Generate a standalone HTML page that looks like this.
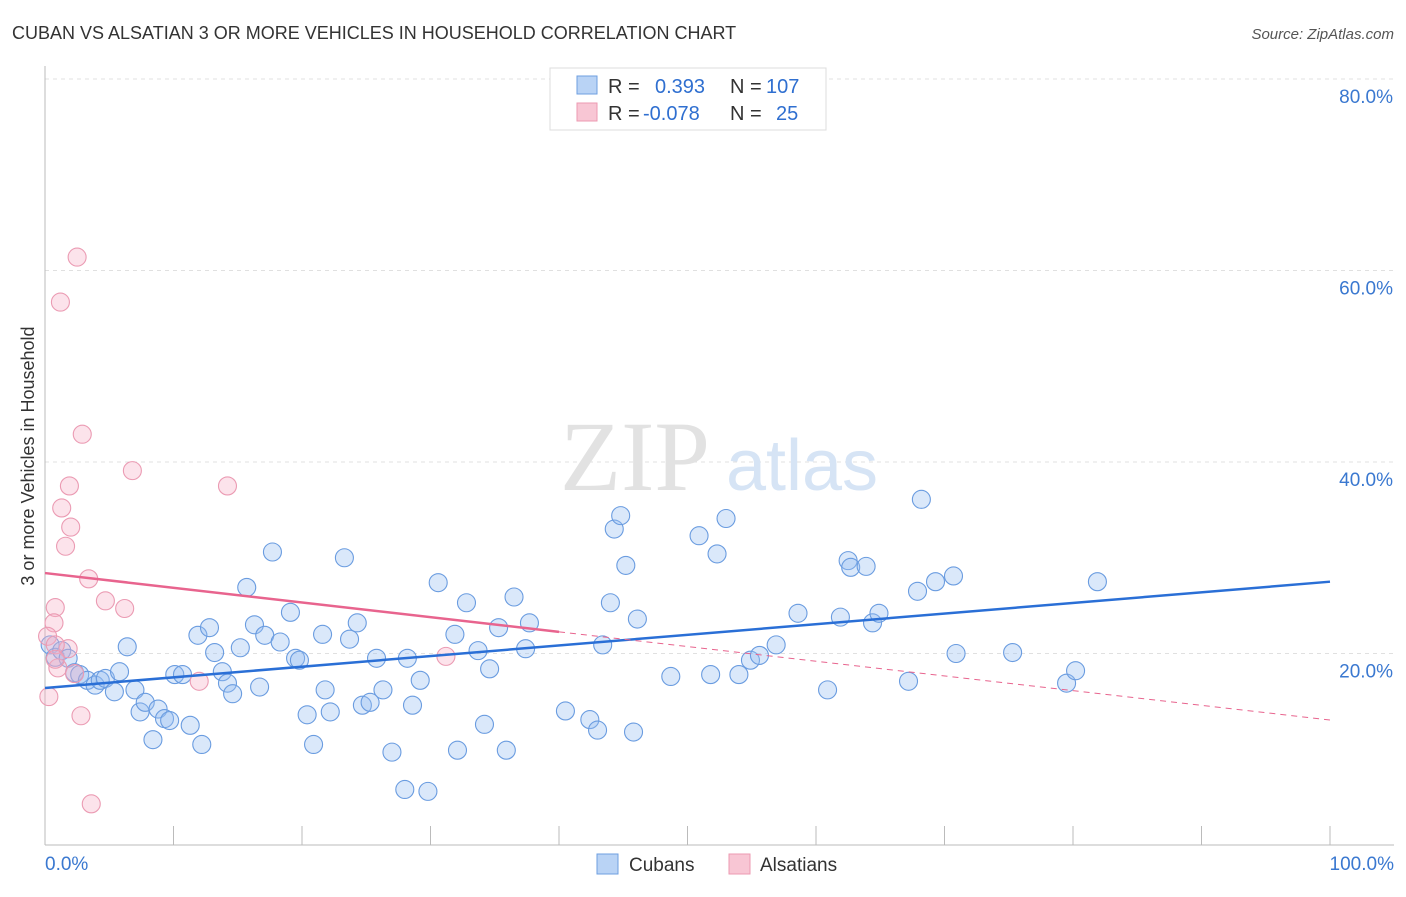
<!DOCTYPE html>
<html><head><meta charset="utf-8"><style>
body{margin:0;background:#fff;font-family:"Liberation Sans",sans-serif;}
svg text{font-family:"Liberation Sans",sans-serif;}
</style></head><body>
<svg id="chart" width="1406" height="892">
<text x="12" y="39" font-size="18" fill="#333">CUBAN VS ALSATIAN 3 OR MORE VEHICLES IN HOUSEHOLD CORRELATION CHART</text>
<text x="1394" y="39" font-size="15" fill="#555" font-style="italic" text-anchor="end">Source: ZipAtlas.com</text>
<text transform="translate(34,456) rotate(-90)" font-size="18" fill="#333" text-anchor="middle">3 or more Vehicles in Household</text>
<g id="grid"></g>
<text x="635" y="490" font-size="100" fill="#e2e2e2" style="font-family:'Liberation Serif',serif" text-anchor="middle">ZIP</text>
<text x="802" y="490" font-size="72" fill="#d6e4f5" text-anchor="middle">atlas</text>
<g id="marks"></g>
<g id="lines"></g>
<g>
<rect x="550" y="68" width="276" height="62" fill="#fff" stroke="#ddd"/>
<rect x="577" y="76" width="20" height="18" fill="#b9d3f5" stroke="#6e9fe0"/>
<rect x="577" y="103" width="20" height="18" fill="#f8c6d4" stroke="#ec9ab2"/>
<text x="608" y="93" font-size="20" fill="#333">R =</text>
<text x="655" y="93" font-size="20" fill="#2f6fd0">0.393</text>
<text x="730" y="93" font-size="20" fill="#333">N =</text>
<text x="766" y="93" font-size="20" fill="#2f6fd0">107</text>
<text x="608" y="120" font-size="20" fill="#333">R =</text>
<text x="643" y="120" font-size="20" fill="#2f6fd0">-0.078</text>
<text x="730" y="120" font-size="20" fill="#333">N =</text>
<text x="776" y="120" font-size="20" fill="#2f6fd0">25</text>
</g>
<g>
<rect x="597" y="854" width="21" height="20" fill="#b9d3f5" stroke="#6e9fe0"/>
<text x="629" y="871" font-size="19" fill="#333">Cubans</text>
<rect x="729" y="854" width="21" height="20" fill="#f8c6d4" stroke="#ec9ab2"/>
<text x="760" y="871" font-size="19" fill="#333">Alsatians</text>
</g>
</svg>
<script>
const xTicks=[0,10,20,30,40,50,60,70,80,90,100];
const yTicks=[20,40,60,80];
const yTickLabels=["20.0%","40.0%","60.0%","80.0%"];
const cubansX=[0.4,0.8,1.3,1.8,2.3,2.7,3.3,3.9,4.3,4.7,5.4,5.8,6.4,7,7.4,7.8,8.4,8.8,9.3,9.7,10.1,10.7,11.3,11.9,12.2,12.8,13.2,13.8,14.2,14.6,15.2,15.7,16.3,16.7,17.1,17.7,18.3,19.1,19.5,19.8,20.4,20.9,21.6,21.8,22.2,23.3,23.7,24.3,24.7,25.3,25.8,26.3,27,28,28.2,28.6,29.2,29.8,30.6,31.9,32.1,32.8,33.7,34.2,34.6,35.3,35.9,36.5,37.4,37.7,40.5,42.4,43,43.4,44,44.3,44.8,45.2,45.8,46.1,48.7,50.9,51.8,52.3,53,54,54.9,55.6,56.9,58.6,60.9,61.9,62.5,62.7,63.9,64.4,64.9,67.2,67.9,68.2,69.3,70.7,70.9,75.3,79.5,80.2,81.9];
const cubansY=[20.9,19.6,20.3,19.5,18,17.8,17.2,16.7,17.2,17.4,16,18.1,20.7,16.2,13.9,14.9,11,14.2,13.2,13,17.8,17.8,12.5,21.9,10.5,22.7,20.1,18.1,16.9,15.8,20.6,26.9,23,16.5,21.9,30.6,21.2,24.3,19.5,19.3,13.6,10.5,22,16.2,13.9,30,21.5,23.2,14.6,14.9,19.5,16.2,9.7,5.8,19.5,14.6,17.2,5.6,27.4,22,9.9,25.3,20.3,12.6,18.4,22.7,9.9,25.9,20.5,23.2,14,13.1,12,20.9,25.3,33,34.4,29.2,11.8,23.6,17.6,32.3,17.8,30.4,34.1,17.8,19.3,19.8,20.9,24.2,16.2,23.8,29.7,29,29.1,23.2,24.2,17.1,26.5,36.1,27.5,28.1,20,20.1,16.9,18.2,27.5];
const alsatiansX=[2.5,1.2,2.9,6.8,1.9,14.2,1.3,2,1.6,3.4,4.7,6.2,0.8,0.7,0.2,1.8,0.8,1,0.3,2.8,3.6,12,31.2,2.3,0.8];
const alsatiansY=[61.4,56.7,42.9,39.1,37.5,37.5,35.2,33.2,31.2,27.8,25.5,24.7,24.8,23.2,21.8,20.5,20.9,18.5,15.5,13.5,4.3,17.1,19.7,17.9,19.4];
const cubanTrend=[16.4,27.5];
const alsatianTrend=[28.4,13.05];
const alsatianSolidEnd=40;
const NS="http://www.w3.org/2000/svg";
const X=v=>45+v*12.85, Y=v=>845-v*9.575;
function mk(tag,attrs,parent){const e=document.createElementNS(NS,tag);for(const k in attrs)e.setAttribute(k,attrs[k]);parent.appendChild(e);return e;}
const grid=document.getElementById('grid'),marks=document.getElementById('marks'),lines=document.getElementById('lines');
yTicks.forEach((t,i)=>{
 const l=mk('line',{x1:45,x2:1394,y1:Y(t),y2:Y(t),stroke:'#e0e0e0','stroke-dasharray':'4,4'},grid);
 
 
 const tx=mk('text',{x:1393,y:Y(t)+24,'font-size':19,fill:'#3a78d0','text-anchor':'end'},grid);
 tx.textContent=yTickLabels[i];
 
 
});
const ax=mk('line',{x1:45,x2:45,y1:66,y2:845,stroke:'#bbb'},grid);


const bx=mk('line',{x1:45,x2:1394,y1:845,y2:845,stroke:'#bbb'},grid);


xTicks.forEach(t=>{
 const l=mk('line',{x1:X(t),x2:X(t),y1:826,y2:845,stroke:'#bbb'},grid);
 
 
});
[[0,'0.0%','start',45],[100,'100.0%','end',1394]].forEach(a=>{
 const t=mk('text',{x:a[3],y:870,'font-size':19,fill:'#3a78d0','text-anchor':a[2]},grid);
 t.textContent=a[1];
 
 
});
cubansX.forEach((x,i)=>{
 const c=mk('circle',{cx:X(x),cy:Y(cubansY[i]),r:9,fill:'rgba(150,190,240,0.35)',stroke:'#6a9ce0','stroke-width':1.1},marks);
 
 
});
alsatiansX.forEach((x,i)=>{
 const c=mk('circle',{cx:X(x),cy:Y(alsatiansY[i]),r:9,fill:'rgba(245,175,198,0.35)',stroke:'#eb9bb3','stroke-width':1.1},marks);
 
 
});
const bl=mk('line',{x1:X(0),y1:Y(cubanTrend[0]),x2:X(100),y2:Y(cubanTrend[1]),stroke:'#2a6fd6','stroke-width':2.5},lines);


const pe=alsatianTrend[0]+(alsatianTrend[1]-alsatianTrend[0])*alsatianSolidEnd/100;
const pl=mk('line',{x1:X(0),y1:Y(alsatianTrend[0]),x2:X(alsatianSolidEnd),y2:Y(pe),stroke:'#e8648e','stroke-width':2.5},lines);


const pd=mk('line',{x1:X(alsatianSolidEnd),y1:Y(pe),x2:X(100),y2:Y(alsatianTrend[1]),stroke:'#e8648e','stroke-width':1,'stroke-dasharray':'6,5'},lines);


</script>
</body></html>
